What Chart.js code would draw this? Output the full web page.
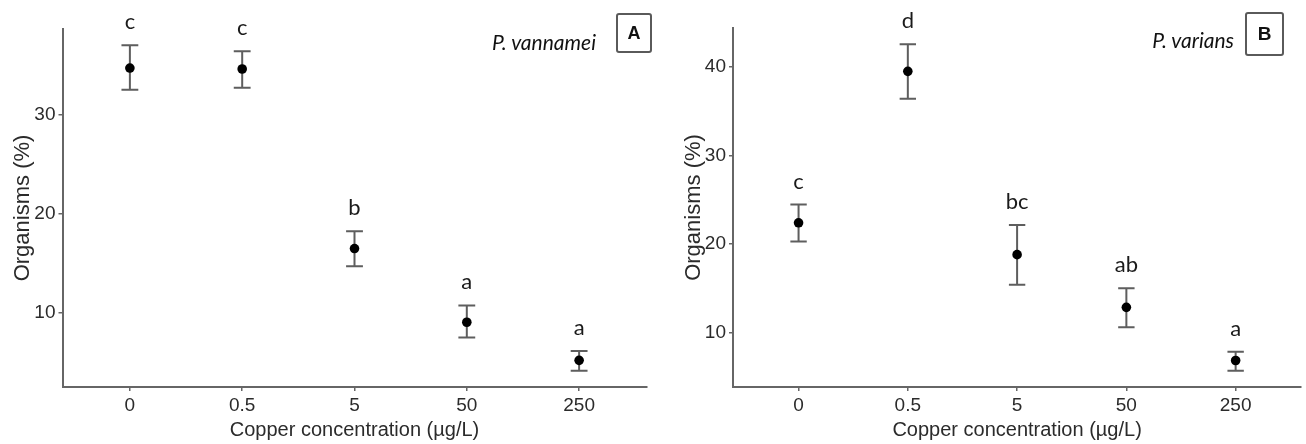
<!DOCTYPE html>
<html>
<head>
<meta charset="utf-8">
<script src="https://cdn.jsdelivr.net/npm/chart.js@4"></script>
<style>
  body { margin: 0; background: #fff; }
  #wrap { position: relative; width: 1306px; height: 444px; overflow: hidden; }
  .panel { position: absolute; top: 0; height: 444px; }
  #panelA { left: 0; width: 660px; }
  #panelB { left: 660px; width: 646px; }
  .species {
    position: absolute; font-family: Lato, 'Open Sans', sans-serif; font-style: italic;
    font-size: 21px; color: #111; line-height: 24px; white-space: nowrap;
  }
  .tag {
    position: absolute; box-sizing: border-box; border: 2px solid #5a5a5a; border-radius: 3px;
    font-family: 'Liberation Sans', Arial, sans-serif; font-weight: bold; color: #111;
    display: flex; align-items: center; justify-content: center;
  }
</style>
</head>
<body>
<div id="wrap">
  <div class="panel" id="panelA"><canvas id="chartA"></canvas></div>
  <div class="panel" id="panelB"><canvas id="chartB"></canvas></div>
  <div class="species" style="right: 710px; top: 30px;">P. vannamei</div>
  <div class="tag" style="left: 616px; top: 13px; width: 36px; height: 40px; font-size: 18px;">A</div>
  <div class="species" style="right: 72px; top: 28px;">P. varians</div>
  <div class="tag" style="left: 1245px; top: 12px; width: 39px; height: 44px; font-size: 19px;">B</div>
</div>
<script>
// Copper concentrations (µg/L)
const categories = ['0', '0.5', '5', '50', '250'];

// Panel A - P. vannamei
const meanA = [34.7, 34.6, 16.45, 9.0, 5.15];
const upperA = [37.0, 36.4, 18.2, 10.7, 6.1];
const lowerA = [32.5, 32.7, 14.65, 7.45, 4.1];
const lettersA = ['c', 'c', 'b', 'a', 'a'];
const ticksA = [10, 20, 30];

// Panel B - P. varians
const meanB = [22.4, 39.5, 18.8, 12.85, 6.85];
const upperB = [24.45, 42.55, 22.15, 15.0, 7.85];
const lowerB = [20.3, 36.4, 15.4, 10.6, 5.7];
const lettersB = ['c', 'd', 'bc', 'ab', 'a'];
const ticksB = [10, 20, 30, 40];

const axisGrey = '#666';
const textGrey = '#2b2b2b';

// error bars under the points, significance letters above the bars
function errorBarPlugin(upper, lower, letters) {
    return {
        id: 'errorBars',
        beforeDatasetsDraw(chart) {
            const { ctx, scales: { x, y } } = chart;
            const half = (x.getPixelForValue(1) - x.getPixelForValue(0)) * 0.075;
            ctx.save();
            ctx.strokeStyle = '#5e5e5e';
            ctx.lineWidth = 2;
            upper.forEach((u, i) => {
                const px = x.getPixelForValue(i);
                const top = y.getPixelForValue(u);
                const bot = y.getPixelForValue(lower[i]);
                ctx.beginPath();
                ctx.moveTo(px, top); ctx.lineTo(px, bot);
                ctx.moveTo(px - half, top); ctx.lineTo(px + half, top);
                ctx.moveTo(px - half, bot); ctx.lineTo(px + half, bot);
                ctx.stroke();
            });
            ctx.restore();
        },
        afterDatasetsDraw(chart) {
            const { ctx, scales: { x, y } } = chart;
            ctx.save();
            ctx.fillStyle = '#1a1a1a';
            ctx.font = '22px Lato, "Open Sans", sans-serif';
            ctx.textAlign = 'center';
            ctx.textBaseline = 'alphabetic';
            letters.forEach((txt, i) => {
                ctx.fillText(txt, x.getPixelForValue(i), y.getPixelForValue(upper[i]) - 16);
            });
            ctx.restore();
        }
    };
}

function makeChart(id, mean, upper, lower, letters, yTicks, yWidth, titlePad, padding) {
    // ggplot-like 5% expansion of the data range
    const lo = Math.min(...lower), hi = Math.max(...upper);
    const ext = (hi - lo) * 0.05;

    const ctx = document.getElementById(id).getContext('2d');
    return new Chart(ctx, {
        type: 'scatter',
        data: {
            datasets: [{
                data: mean.map((v, i) => ({ x: i, y: v })),
                backgroundColor: '#000',
                borderWidth: 0,
                pointRadius: 4.8
            }]
        },
        options: {
            responsive: true,
            maintainAspectRatio: false,
            animation: false,
            layout: { padding: padding },
            plugins: { legend: { display: false }, tooltip: { enabled: false } },
            scales: {
                x: {
                    type: 'linear',
                    min: -0.6,
                    max: categories.length - 0.4,
                    afterBuildTicks: (s) => { s.ticks = categories.map((c, i) => ({ value: i })); },
                    afterFit: (s) => { s.height = 57; },
                    grid: { drawOnChartArea: false, drawTicks: true, tickLength: 4, color: axisGrey, lineWidth: 1.5 },
                    border: { display: true, color: axisGrey, width: 2 },
                    ticks: {
                        autoSkip: false, maxRotation: 0, padding: 3, color: textGrey,
                        font: { family: '"Liberation Sans", Arial, sans-serif', size: 19 },
                        callback: (v) => categories[v]
                    },
                    title: {
                        display: true, text: 'Copper concentration (µg/L)', color: textGrey,
                        font: { family: '"Liberation Sans", Arial, sans-serif', size: 20 },
                        padding: { top: 0, bottom: 2 }
                    }
                },
                y: {
                    min: lo - ext,
                    max: hi + ext,
                    afterBuildTicks: (s) => { s.ticks = yTicks.map(v => ({ value: v })); },
                    afterFit: (s) => { s.width = yWidth; },
                    grid: { drawOnChartArea: false, drawTicks: true, tickLength: 4, color: axisGrey, lineWidth: 1.5 },
                    border: { display: true, color: axisGrey, width: 2 },
                    ticks: {
                        padding: 3, color: textGrey,
                        font: { family: '"Liberation Sans", Arial, sans-serif', size: 19 }
                    },
                    title: {
                        display: true, text: 'Organisms (%)', color: textGrey,
                        font: { family: '"Liberation Sans", Arial, sans-serif', size: 22 },
                        padding: { top: titlePad, bottom: 0 }
                    }
                }
            }
        },
        plugins: [errorBarPlugin(upper, lower, letters)]
    });
}

makeChart('chartA', meanA, upperA, lowerA, lettersA, ticksA, 62.5, 10, { left: 0, right: 13.5, top: 29, bottom: 0 });
makeChart('chartB', meanB, upperB, lowerB, lettersB, ticksB, 73, 21, { left: 0, right: 0, top: 28, bottom: 0 });
</script>
</body>
</html>
